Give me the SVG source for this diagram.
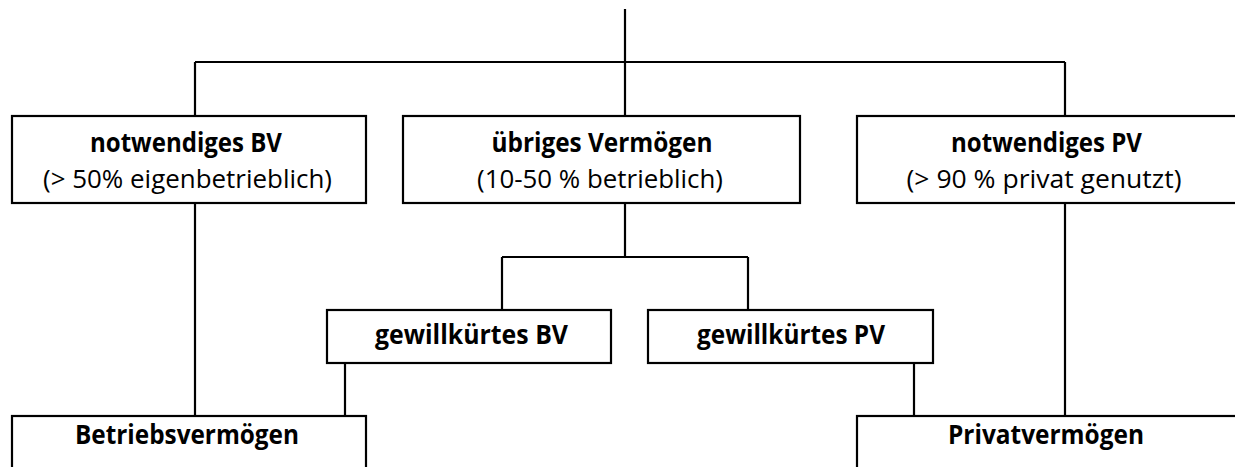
<svg xmlns="http://www.w3.org/2000/svg" width="1235" height="467" viewBox="0 0 1235 467">
<style>
.box{fill:#fff;stroke:#000;stroke-width:2.2}
.ln{fill:none;stroke:#000;stroke-width:2.2}
text{font-family:"Open Sans","Liberation Sans",sans-serif;fill:#000;text-anchor:middle}
.b{font-weight:bold;font-size:26px}
.r{font-size:26px}
</style>
<rect width="1235" height="467" fill="#fff"/>
<g id="connectors">
<path class="ln" d="M625,9V62M195,62H1065M195,62V116M625,62V116M1065,62V116"/>
<path class="ln" d="M195,203V416M1065,203V416"/>
<path class="ln" d="M625,203V257M502,257H748M502,257V310M748,257V310"/>
<path class="ln" d="M345,363V416M914,363V416"/>
</g>
<g id="notwendigesBV">
<rect class="box" x="12" y="116" width="354" height="87"/>
<text class="b" x="186" y="152" textLength="192" lengthAdjust="spacingAndGlyphs">notwendiges BV</text>
<text class="r" x="187.5" y="188" textLength="289" lengthAdjust="spacingAndGlyphs">(&gt; 50% eigenbetrieblich)</text>
</g>
<g id="uebrigesVermoegen">
<rect class="box" x="403" y="116" width="397" height="87"/>
<text class="b" x="602" y="152" textLength="221" lengthAdjust="spacingAndGlyphs">übriges Vermögen</text>
<text class="r" x="600" y="188" textLength="246" lengthAdjust="spacingAndGlyphs">(10-50 % betrieblich)</text>
</g>
<g id="notwendigesPV">
<rect class="box" x="857" y="116" width="390" height="87"/>
<text class="b" x="1046.5" y="152" textLength="191" lengthAdjust="spacingAndGlyphs">notwendiges PV</text>
<text class="r" x="1044" y="188" textLength="275" lengthAdjust="spacingAndGlyphs">(&gt; 90 % privat genutzt)</text>
</g>
<g id="gewillkuertesBV">
<rect class="box" x="327" y="310" width="284" height="53"/>
<text class="b" x="471.5" y="344" textLength="193" lengthAdjust="spacingAndGlyphs">gewillkürtes BV</text>
</g>
<g id="gewillkuertesPV">
<rect class="box" x="648" y="310" width="285" height="53"/>
<text class="b" x="791" y="344" textLength="188" lengthAdjust="spacingAndGlyphs">gewillkürtes PV</text>
</g>
<g id="Betriebsvermoegen">
<rect class="box" x="12" y="416" width="354" height="80"/>
<text class="b" x="187" y="444" textLength="224" lengthAdjust="spacingAndGlyphs">Betriebsvermögen</text>
</g>
<g id="Privatvermoegen">
<rect class="box" x="857" y="416" width="420" height="80"/>
<text class="b" x="1046" y="444" textLength="196" lengthAdjust="spacingAndGlyphs">Privatvermögen</text>
</g>
</svg>
